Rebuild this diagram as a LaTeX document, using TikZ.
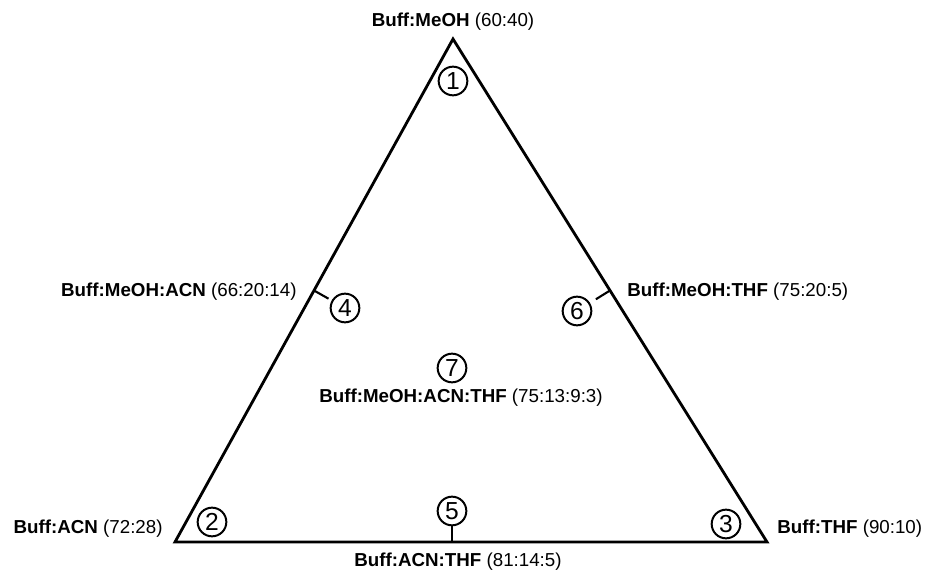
\documentclass[tikz,border=0pt]{standalone}
\usepackage{fontspec}
\setmainfont{Liberation Sans}
\usetikzlibrary{calc, positioning}

\begin{document}
\begin{tikzpicture}[x=0.03cm, y=-0.03cm,
    every node/.style={font=\fontsize{16}{18}\selectfont, inner sep=1pt},
    num/.style={draw, circle, line width=1.7pt, minimum size=0.86cm, inner sep=0pt,
        font=\fontsize{21}{21}\selectfont},
    side/.style={line width=2.4pt, line join=miter},
    tick/.style={line width=1.8pt}]
    \useasboundingbox (0,0) rectangle (930,573);

    % Triangolo
    \coordinate (top) at (453,39);
    \coordinate (bl) at (175,542);
    \coordinate (br) at (767,542);
    \draw[side] (top) -- (bl) -- (br) -- cycle;

    % Vertici
    \node[num] (c1) at (453,81) {1};
    \node[num] (c2) at (212,522) {2};
    \node[num] (c3) at (726,524) {3};
    \node (l1) at (453,22) {\textbf{Buff:MeOH} (60:40)};
    \node[anchor=east] (l2) at (164,529) {\textbf{Buff:ACN} (72:28)};
    \node[anchor=west] (l3) at (776,529) {\textbf{Buff:THF} (90:10)};

    % Lati
    \coordinate (m4) at ($(top)!0.5!(bl)$);
    \coordinate (m6) at ($(top)!0.5!(br)$);
    \coordinate (m5) at (452,542);
    \node[num] (c4) at (345,308) {4};
    \node[num] (c6) at (577,311) {6};
    \node[num] (c5) at (452,511) {5};
    \draw[tick] (m4) -- ($(m4)!0.5cm!(c4)$);
    \draw[tick] (m6) -- ($(m6)!0.5cm!(c6)$);
    \draw[tick] (m5) -- (c5);
    \node[anchor=east] (l4) at (298,292) {\textbf{Buff:MeOH:ACN} (66:20:14)};
    \node[anchor=west] (l6) at (626,292) {\textbf{Buff:MeOH:THF} (75:20:5)};
    \node (l5) at (458,562) {\textbf{Buff:ACN:THF} (81:14:5)};

    % Centro
    \node[num] (c7) at (452,368) {7};
    \node (l7) at (461,398) {\textbf{Buff:MeOH:ACN:THF} (75:13:9:3)};
\end{tikzpicture}
\end{document}
